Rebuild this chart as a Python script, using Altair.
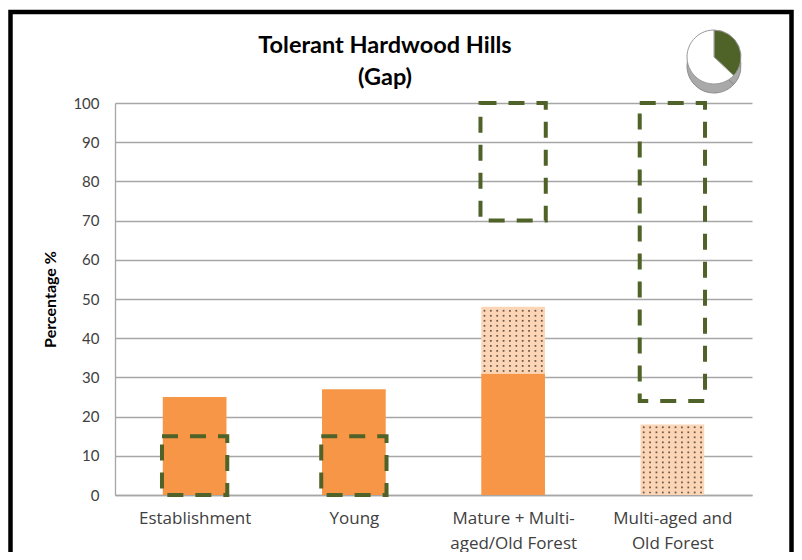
import altair as alt
import pandas as pd

# ---- data ----
categories = ["Establishment", "Young", "Mature + Multi-\naged/Old Forest", "Multi-aged and\nOld Forest"]
solid_top = [25, 27, 31, None]          # solid orange (current)
dotted_bottom = [None, None, 31, 0]     # dotted (projected) segment
dotted_top = [None, None, 48, 18]
range_low = [0, 0, 70, 24]              # dashed target range
range_high = [15, 15, 100, 100]
pie_parts = ["Gap", "Other"]
pie_values = [37, 63]
title_lines = ["Tolerant Hardwood Hills", "(Gap)"]
y_ticks = list(range(0, 101, 10))

ORANGE = "#F79646"
PEACH = "#FBD5B5"
GREEN = "#4F6228"
GRID = "#a6a6a6"
FONT = "Lato"
XFONT = "Open Sans"
HALF = 0.2     # half bar width in category units

idx = list(range(len(categories)))
solid = pd.DataFrame({"i": idx, "lo": [0] * 4, "hi": solid_top}).dropna()
dotted = pd.DataFrame({"i": idx, "lo": dotted_bottom, "hi": dotted_top}).dropna()
ranges = pd.DataFrame({"i": idx, "lo": range_low, "hi": range_high})

# dot texture for the dotted segments (purely decorative fill pattern)
step = 1.28
ncol = 10
tex = []
for i, lo, hi in dotted.itertuples(index=False):
    v = lo + step / 2
    while v < hi:
        for k in range(ncol):
            tex.append({"i": i, "lo": v, "k": k})
        v += step
texture = pd.DataFrame(tex)

pie = pd.DataFrame({"part": pie_parts, "val": pie_values, "ord": [0, 1]})

label_array = "[" + ",".join("'" + c.replace("\n", "|") + "'" for c in categories) + "]"
x_scale = alt.Scale(domain=[-0.5, len(categories) - 0.5], nice=False, zero=False)
x_axis = alt.Axis(
    title=None, values=idx, labelExpr=f"split({label_array}[datum.value], '|')",
    labelAngle=0, labelFont=XFONT, labelFontSize=17, labelColor="#404040",
    labelLineHeight=25, labelPadding=15, ticks=False, grid=False,
    domainColor=GRID, domainWidth=1.3, labelBaseline="top", labelFlush=False,
)
y_scale = alt.Scale(domain=[0, 100], nice=False)
y_axis = alt.Axis(
    values=y_ticks, title="Percentage %", titleFont=FONT, titleFontSize=16,
    titleFontWeight="bold", titleColor="#000", titlePadding=14, labelFont=FONT,
    labelFontSize=15, labelColor="#404040", labelPadding=16, ticks=False,
    gridColor=GRID, gridWidth=1.3, domainColor=GRID, domainWidth=1.3, labelOverlap=False,
)


def X():
    return alt.X("x0:Q", scale=x_scale, axis=x_axis)


def Y(show=False):
    return alt.Y("lo:Q", scale=y_scale, axis=y_axis if show else None)


base_bars = alt.Chart(solid).mark_rect(color=ORANGE).transform_calculate(
    x0=f"datum.i - {HALF}", x1=f"datum.i + {HALF}"
).encode(x=X(), x2="x1:Q", y=Y(True), y2="hi:Q")

dot_bars = alt.Chart(dotted).mark_rect(color=PEACH).transform_calculate(
    x0=f"datum.i - {HALF}", x1=f"datum.i + {HALF}"
).encode(x=X(), x2="x1:Q", y=Y(), y2="hi:Q")

dots = alt.Chart(texture).mark_square(size=3, color="#5b4636", opacity=0.9).transform_calculate(
    x0=f"datum.i - {HALF} + (datum.k + 0.5) * {2 * HALF / ncol}"
).encode(x=X(), y=Y())

range_boxes = alt.Chart(ranges).mark_rect(
    fillOpacity=0, stroke=GREEN, strokeWidth=4, strokeDash=[16, 12]
).transform_calculate(
    x0=f"datum.i - {HALF + 0.005}", x1=f"datum.i + {HALF + 0.005}"
).encode(x=X(), x2="x1:Q", y=Y(), y2="hi:Q")

title1 = alt.Chart(pd.DataFrame({"t": [title_lines[0]]})).mark_text(
    font=FONT, fontSize=23.5, fontWeight="bold", color="#000", align="center", baseline="middle"
).encode(text="t:N", x=alt.value(270), y=alt.value(-57))
title2 = alt.Chart(pd.DataFrame({"t": [title_lines[1]]})).mark_text(
    font=FONT, fontSize=23.5, fontWeight="bold", color="#000", align="center", baseline="middle"
).encode(text="t:N", x=alt.value(270), y=alt.value(-25))

pie_depth = alt.Chart(pie).mark_arc(radius=27, fill="#a9a9a9", stroke="#8c8c8c").encode(
    theta=alt.Theta("val:Q", stack=True), order=alt.Order("ord:Q"),
    x=alt.value(599), y=alt.value(-37),
)
pie_top = alt.Chart(pie).mark_arc(radius=27, stroke="#9a9a9a", strokeWidth=1).encode(
    theta=alt.Theta("val:Q", stack=True), order=alt.Order("ord:Q"),
    color=alt.Color("part:N", scale=alt.Scale(domain=pie_parts, range=[GREEN, "#ffffff"]), legend=None),
    x=alt.value(599), y=alt.value(-46),
)

frame = alt.Chart(pd.DataFrame({"k": [0]})).mark_rect(
    fillOpacity=0, stroke="#000", strokeWidth=4.5
).encode(x=alt.value(-104.5), x2=alt.value(676.5), y=alt.value(-91), y2=alt.value(480))

chart = alt.layer(
    base_bars, dot_bars, dots, range_boxes, title1, title2, pie_depth, pie_top, frame
).resolve_scale(y="independent").properties(
    width=637, height=392,
    padding={"left": 107, "top": 95, "right": 42, "bottom": 57},
    autosize="none", background="white",
).configure_view(stroke=None)

chart.save("out.html", embed_options={"renderer": "svg", "actions": False})
